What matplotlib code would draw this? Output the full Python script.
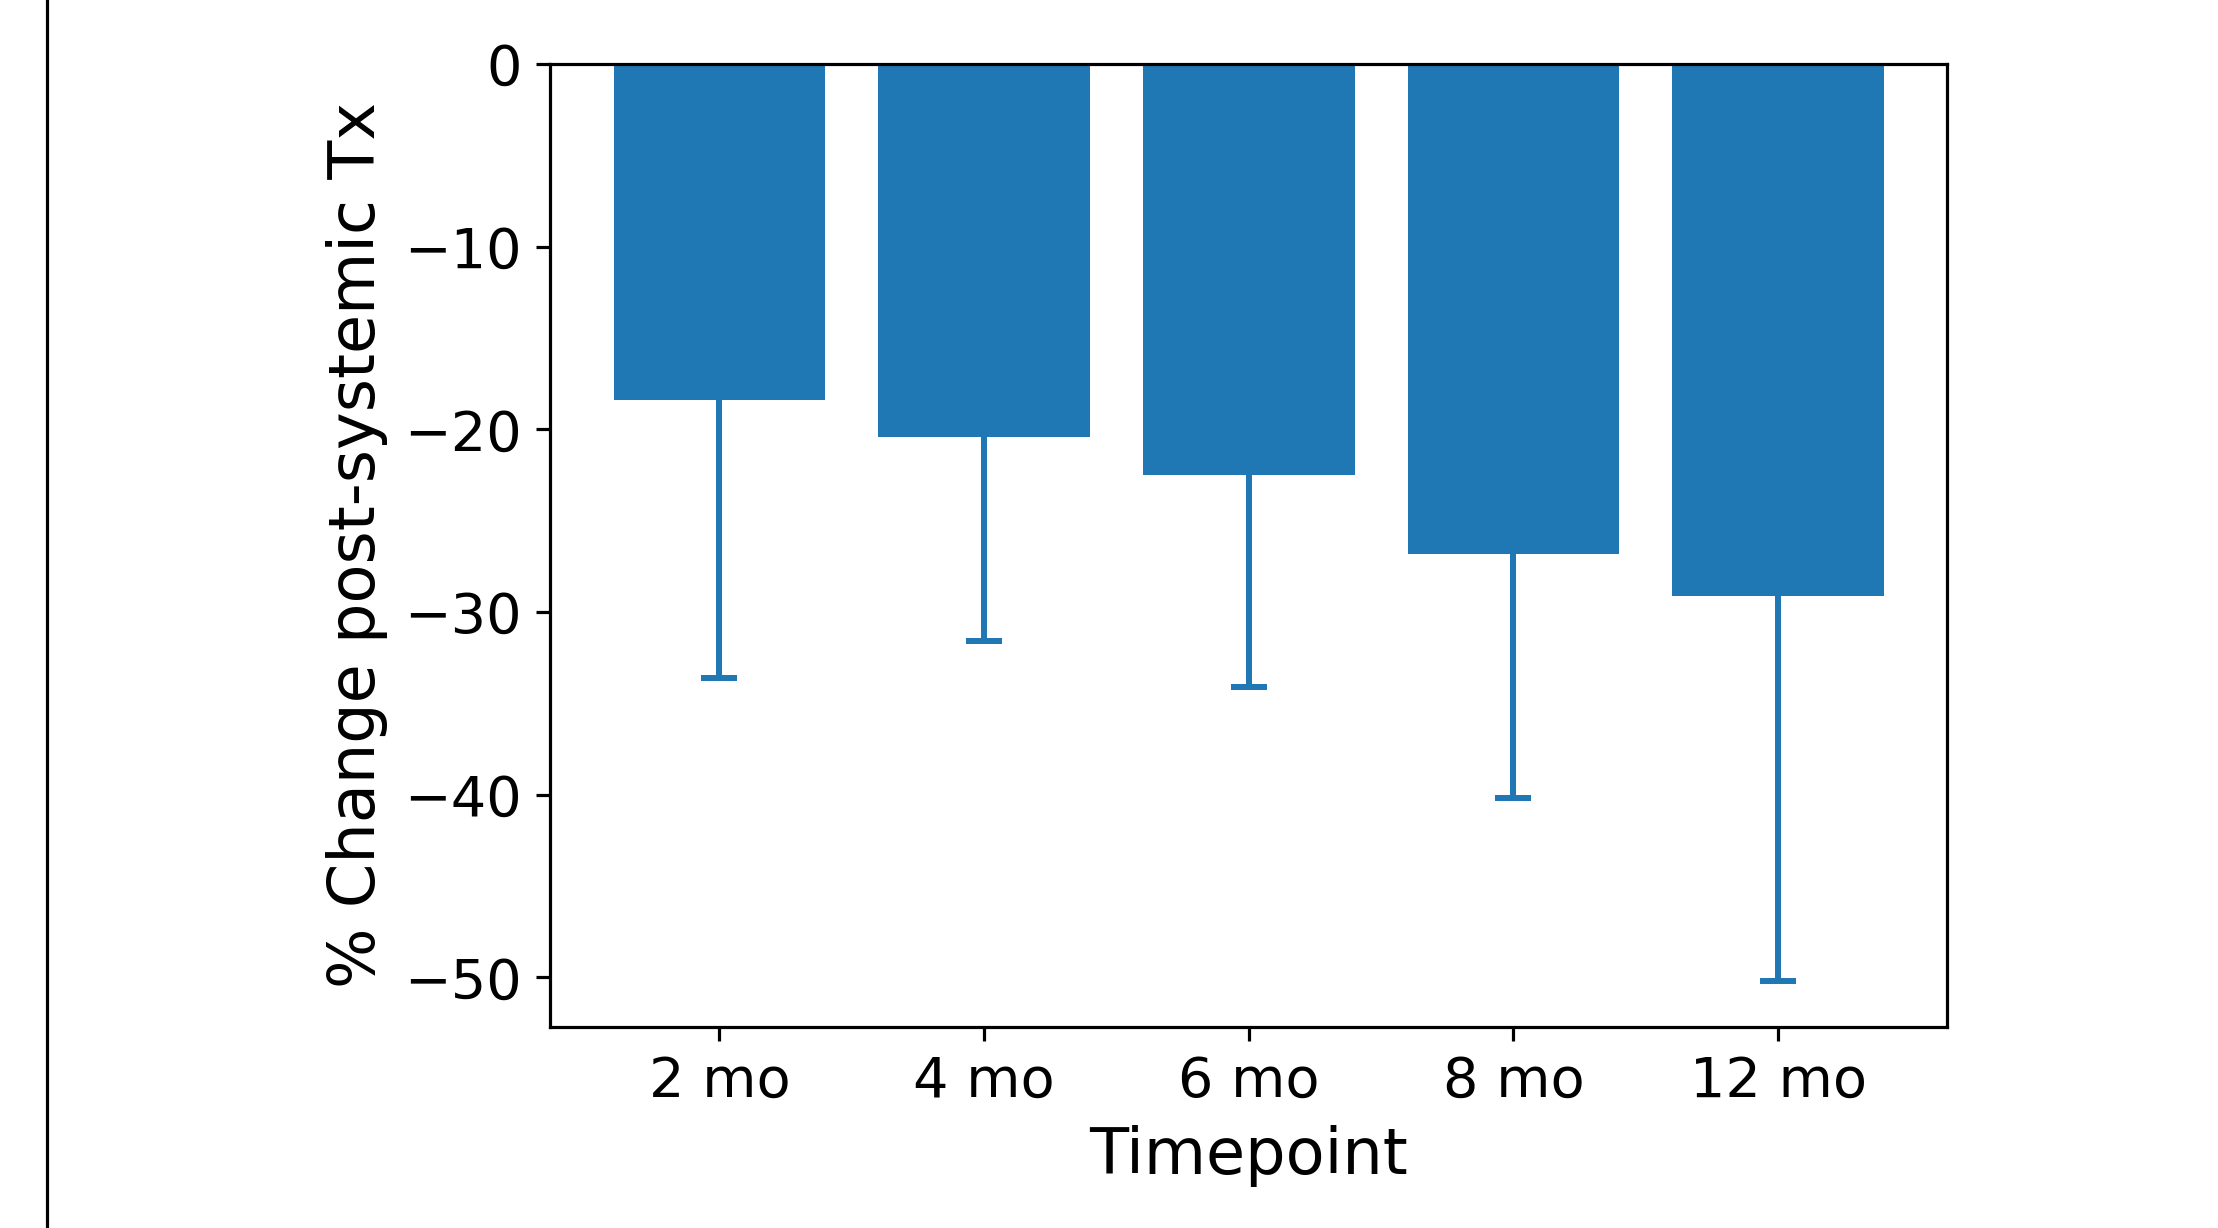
import matplotlib
matplotlib.use("Agg")
import matplotlib.pyplot as plt
import numpy as np

categories = ["2 mo", "4 mo", "6 mo", "8 mo", "12 mo"]
mean_change = [-18.4, -20.4, -22.5, -26.8, -29.1]
sd_change = [15.2, 11.2, 11.6, 13.4, 21.1]

DPI = 287
fig = plt.figure(figsize=(2218 / DPI, 1228 / DPI), dpi=DPI)
ax = fig.add_axes([0.248, 0.1637, 0.630, 0.7843])

x = np.arange(len(categories))
ax.bar(x, mean_change, width=0.8, color="#1f77b4", yerr=sd_change,
       error_kw=dict(ecolor="#1f77b4", capsize=4.6, elinewidth=1.5, capthick=1.5))
ax.set_xticks(x)
ax.set_xticklabels(categories)
ax.tick_params(labelsize=14)
ax.set_xlabel("Timepoint", fontsize=16)
ax.set_ylabel("% Change post-systemic Tx", fontsize=16)

# left border of the surrounding page/frame
fig.add_artist(plt.Line2D([47 / 2218, 47 / 2218], [0, 1], transform=fig.transFigure,
                          color="black", linewidth=0.8))

fig.savefig("out.png", dpi=DPI)
